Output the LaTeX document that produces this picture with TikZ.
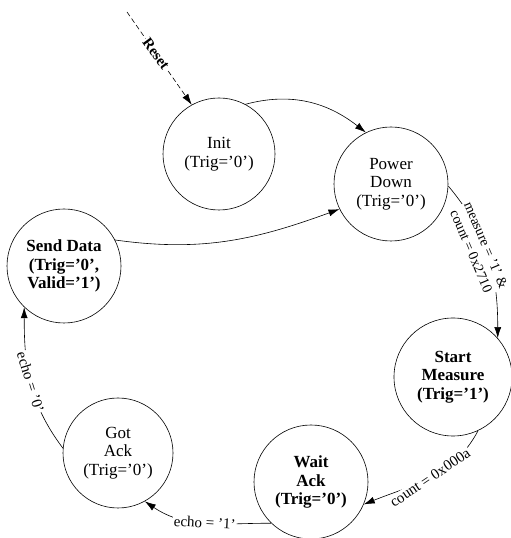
\documentclass[tikz,border=0pt]{standalone}
\usepackage{fontspec}
\setmainfont{Liberation Serif}
\usetikzlibrary{arrows.meta}
\begin{document}
\begin{tikzpicture}[x=1pt,y=1pt,
  state/.style={circle, draw, line width=0.6pt, inner sep=0pt, align=center,
    font=\fontsize{17}{18.5}\selectfont},
  boldstate/.style={state, font=\fontsize{17}{18.5}\selectfont\bfseries},
  trans/.style={line width=0.6pt, -{Latex[length=11pt,width=7pt]}},
  lbl/.style={fill=white, inner sep=1pt, align=center,
    font=\fontsize{15}{17}\selectfont}]
\useasboundingbox (0,0) rectangle (511,538);

% states
\node[state, minimum size=112pt]     (init) at (219,384) {Init\\(Trig='0')};
\node[state, minimum size=114pt]     (pd)   at (391,354) {Power\\Down\\(Trig='0')};
\node[boldstate, minimum size=114pt] (sd)   at (64,272)  {Send Data\\(Trig='0',\\Valid='1')};
\node[boldstate, minimum size=118pt] (sm)   at (453,161) {Start\\Measure\\(Trig='1')};
\node[boldstate, minimum size=114pt] (wa)   at (311,56)  {Wait\\Ack\\(Trig='0')};
\node[state, minimum size=110pt]     (ga)   at (118,85)  {Got\\Ack\\(Trig='0')};

% reset entry
\coordinate (rst) at (127,526);
\draw[trans, dash pattern=on 5pt off 3pt] (rst) -- node[lbl, pos=0.45, rotate=-54, font=\fontsize{15}{17}\selectfont\bfseries] {Reset} (init.119);

% transitions
\draw[trans] (init.62) to[out=15, in=142] (pd.116);
\draw[trans] (sd.27) to[out=-8, in=200] (pd.206);
\draw[trans] (pd.-2) to[out=-50, in=90]
  node[lbl, pos=0.47, xshift=-8pt, yshift=4pt, rotate=-67, font=\fontsize{14}{16}\selectfont] {measure = '1' \&\\count = 0x2710} (sm.41);
\draw[trans] (sm.-65) to[out=-118, in=22]
  node[lbl, pos=0.5, rotate=34] {count = 0x000a} (wa.-23);
\draw[trans] (wa.-134) to[out=180, in=-34]
  node[lbl, pos=0.5, rotate=-3] {echo = '1'} (ga.-61);
\draw[trans] (ga.175) to[out=127, in=-90]
  node[lbl, pos=0.5, rotate=-73] {echo = '0'} (sd.-134);
\end{tikzpicture}
\end{document}
